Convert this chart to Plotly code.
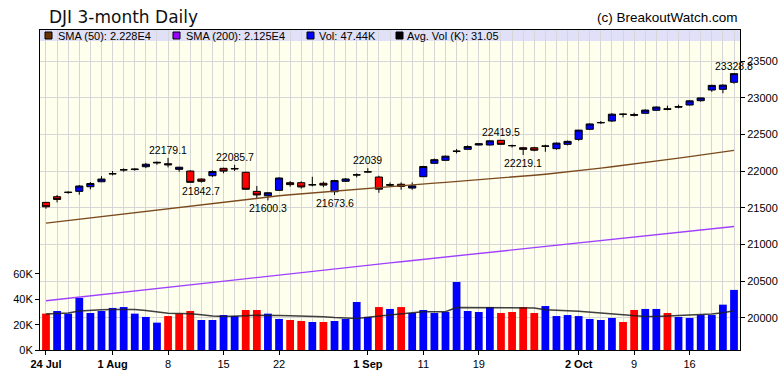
import plotly.graph_objects as go

# ---------------- data ----------------
dates = ["2017-07-24", "2017-07-25", "2017-07-26", "2017-07-27", "2017-07-28", "2017-07-31",
         "2017-08-01", "2017-08-02", "2017-08-03", "2017-08-04", "2017-08-07", "2017-08-08",
         "2017-08-09", "2017-08-10", "2017-08-11", "2017-08-14", "2017-08-15", "2017-08-16",
         "2017-08-17", "2017-08-18", "2017-08-21", "2017-08-22", "2017-08-23", "2017-08-24",
         "2017-08-25", "2017-08-28", "2017-08-29", "2017-08-30", "2017-08-31", "2017-09-01",
         "2017-09-05", "2017-09-06", "2017-09-07", "2017-09-08", "2017-09-11", "2017-09-13",
         "2017-09-14", "2017-09-15", "2017-09-18", "2017-09-19", "2017-09-20", "2017-09-21",
         "2017-09-22", "2017-09-25", "2017-09-26", "2017-09-27", "2017-09-28", "2017-09-29",
         "2017-10-02", "2017-10-03", "2017-10-04", "2017-10-05", "2017-10-06", "2017-10-09",
         "2017-10-10", "2017-10-11", "2017-10-12", "2017-10-13", "2017-10-16", "2017-10-17",
         "2017-10-18", "2017-10-19", "2017-10-20"]

opens = [21573, 21650, 21707, 21723, 21786, 21854, 21961, 22018, 22020, 22059, 22110, 22100,
         22023, 22000, 21891, 21936, 22037, 22035, 21983, 21723, 21663, 21737, 21841, 21841,
         21810, 21833, 21718, 21860, 21946, 21990, 21918, 21815, 21820, 21768, 21923, 22105,
         22146, 22268, 22296, 22355, 22355, 22419, 22345, 22318, 22318, 22338, 22305, 22364,
         22432, 22569, 22657, 22682, 22775, 22770, 22787, 22828, 22850, 22880, 22900, 22959,
         23105, 23114, 23210]
highs = [21578, 21673, 21722, 21810, 21850, 21930, 22000, 22036, 22036, 22112, 22130, 22179.1,
         22060, 22010, 21900, 22010, 22045, 22085.7, 21990, 21796, 21710, 21915, 21864, 21860,
         21922, 21856, 21880, 21905, 21968, 22039, 21936, 21845, 21845, 21845, 22070, 22170,
         22210, 22300, 22350, 22380, 22415, 22419.5, 22360, 22330, 22330, 22359, 22390, 22415,
         22560, 22650, 22682, 22790, 22787, 22795, 22840, 22880, 22891, 22905, 22965, 23002,
         23175, 23180, 23328.8]
lows = [21486, 21573, 21690, 21677, 21750, 21850, 21940, 21990, 22005, 22040, 22085, 22050,
        21990, 21844, 21842.7, 21920, 21970, 22000, 21750, 21628, 21600.3, 21730, 21786, 21760,
        21790, 21780, 21673.6, 21850, 21914, 21980, 21704, 21790, 21745, 21745, 21920, 22100,
        22140, 22240, 22290, 22350, 22350, 22360, 22320, 22219.1, 22270, 22263, 22290, 22350,
        22413, 22560, 22641, 22670, 22732, 22745, 22780, 22820, 22828, 22855, 22895, 22945,
        23080, 23060, 23190]
closes = [21513, 21613, 21711, 21796, 21830, 21891, 21964, 22016, 22026, 22093, 22118, 22085,
          22052, 21846, 21860, 21994, 21999, 22030, 21751, 21674, 21704, 21905, 21815, 21783,
          21814, 21808, 21870, 21892, 21948, 21988, 21753, 21808, 21790, 21798, 22062, 22155,
          22203, 22271, 22334, 22372, 22412, 22364, 22347, 22296, 22284, 22341, 22381, 22405,
          22558, 22642, 22662, 22775, 22774, 22761, 22831, 22873, 22841, 22872, 22957, 22997,
          23168, 23172, 23328]
prev_close = 21580

volume_k = [28.7, 30.8, 28.7, 41.1, 29.2, 30.8, 33.2, 33.9, 28.7, 26.1, 21.6, 26.8,
            28.7, 30.8, 23.7, 23.7, 27.6, 26.8, 31.6, 31.6, 28.7, 24.5, 23.7, 22.9,
            22.1, 22.1, 22.9, 24.5, 37.9, 26.1, 33.9, 32.4, 33.9, 29.2, 31.6, 29.2,
            30.0, 53.7, 30.8, 30.0, 33.9, 29.2, 30.0, 33.9, 29.2, 34.7, 26.8, 27.6,
            26.8, 24.5, 23.7, 25.3, 22.1, 31.6, 32.4, 32.4, 29.2, 26.1, 25.3, 27.6,
            27.6, 35.8, 47.44]
avg_volume_k = [28.5, 28.8, 29.3, 30.8, 31.5, 31.8, 32.0, 32.2, 32.0, 31.2, 30.0, 29.0,
                28.8, 28.6, 27.8, 26.8, 26.4, 26.5, 27.0, 27.4, 27.5, 27.3, 27.0, 26.8,
                26.6, 26.3, 25.6, 25.0, 24.8, 25.8, 26.8, 28.0, 29.0, 29.5, 30.2, 30.4,
                30.2, 33.6, 33.5, 33.4, 33.4, 33.4, 33.5, 33.5, 33.2, 31.8, 31.2, 31.0,
                30.6, 29.8, 29.3, 28.2, 27.5, 26.8, 26.4, 26.4, 26.8, 27.2, 27.4, 27.8,
                28.4, 29.4, 31.0]
sma50 = [21290, 21308, 21326, 21345, 21363, 21381, 21399, 21417, 21435, 21452, 21470, 21488,
         21506, 21524, 21542, 21560, 21578, 21596, 21614, 21632, 21650, 21663, 21676, 21689,
         21702, 21715, 21728, 21741, 21754, 21767, 21780, 21791, 21802, 21813, 21824, 21835,
         21846, 21857, 21868, 21880, 21891, 21903, 21915, 21929, 21943, 21957, 21972, 21988,
         22004, 22022, 22040, 22058, 22076, 22095, 22115, 22135, 22155, 22176, 22197, 22218,
         22240, 22262, 22282]
sma200 = [20232, 20249, 20266, 20283, 20300, 20317, 20334, 20351, 20368, 20385, 20402, 20419,
          20436, 20453, 20470, 20487, 20504, 20521, 20538, 20555, 20572, 20588, 20604, 20620,
          20636, 20652, 20668, 20684, 20700, 20716, 20732, 20748, 20764, 20780, 20796, 20812,
          20828, 20844, 20860, 20876, 20892, 20908, 20924, 20940, 20956, 20972, 20988, 21004,
          21020, 21036, 21052, 21068, 21084, 21100, 21116, 21132, 21148, 21164, 21180, 21196,
          21212, 21228, 21244]

tick_idx = [0, 6, 11, 16, 21, 29, 34, 39, 48, 53, 58]
tick_text = ["<b>24 Jul</b>", "<b>1 Aug</b>", "8", "15", "22", "<b>1 Sep</b>", "11", "19",
             "<b>2 Oct</b>", "9", "16"]
price_ticks = [20000, 20500, 21000, 21500, 22000, 22500, 23000, 23500]
vol_ticks = [0, 20, 40, 60]
vol_tick_text = ["0K", "20K", "40K", "60K"]

label_idx = [11, 14, 17, 20, 26, 29, 41, 43, 62]
label_side = ["high", "low", "high", "low", "low", "high", "high", "low", "high"]

legend_labels = ["SMA (50): 2.228E4", "SMA (200): 2.125E4", "Vol: 47.44K", "Avg. Vol (K): 31.05"]
legend_colors = ["#663300", "#9900ff", "#0000ff", "#000000"]

title_text = "DJI 3-month Daily"
credit_text = "(c) BreakoutWatch.com"

# ---------------- layout geometry ----------------
W, H = 780, 376
L, R, T, B = 40, 40, 30, 26
PW, PH = W - L - R, H - T - B


def px_x(p):
    return (p - L) / PW


def px_y(p):
    return (H - B - p) / PH


idx = list(range(len(dates)))
vol_colors = []
for i, c in enumerate(closes):
    pc = prev_close if i == 0 else closes[i - 1]
    vol_colors.append("#ff0000" if c < pc else "#0000ff")

fig = go.Figure()

fig.add_trace(go.Bar(
    x=idx, y=volume_k, marker=dict(color=vol_colors, line=dict(width=0)),
    yaxis="y2", customdata=dates, hoverinfo="skip"))
fig.add_trace(go.Scatter(
    x=idx, y=avg_volume_k, mode="lines", yaxis="y2",
    line=dict(color="rgba(30,30,30,0.85)", width=1.5), hoverinfo="skip"))

fig.add_trace(go.Scatter(
    x=idx, y=sma200, mode="lines", yaxis="y3",
    line=dict(color="#a040ff", width=1.4), hoverinfo="skip"))
fig.add_trace(go.Scatter(
    x=idx, y=sma50, mode="lines", yaxis="y3",
    line=dict(color="#7a4a1e", width=1.4), hoverinfo="skip"))
fig.add_trace(go.Candlestick(
    x=idx, open=opens, high=highs, low=lows, close=closes, yaxis="y3",
    increasing=dict(fillcolor="#0000ff", line=dict(color="#000000", width=1)),
    decreasing=dict(fillcolor="#ff0000", line=dict(color="#000000", width=1)),
    whiskerwidth=0, hoverinfo="skip"))

price_range = [19560, 23923]
vol_range = [0, 252.6]

annotations = []
for i, side in zip(label_idx, label_side):
    v = highs[i] if side == "high" else lows[i]
    annotations.append(dict(
        x=i, y=v, xref="x", yref="y3", text=format(v, ".6g"), showarrow=False,
        yanchor="bottom" if side == "high" else "top",
        font=dict(family="Liberation Sans, Arial", size=10.5, color="#000000")))

annotations.append(dict(
    x=px_x(49) - 0.003, y=px_y(17), xref="paper", yref="paper", text=title_text,
    showarrow=False, xanchor="left", yanchor="middle",
    font=dict(family="DejaVu Sans", size=17, color="#111111")))
annotations.append(dict(
    x=1.0, y=px_y(17.5), xref="paper", yref="paper", text=credit_text,
    showarrow=False, xanchor="right", yanchor="middle",
    font=dict(family="Liberation Sans, Arial", size=13.5, color="#000000")))

shapes = [dict(type="rect", xref="paper", yref="paper", x0=0, x1=1,
               y0=px_y(41), y1=1, fillcolor="#e0e0f8", line=dict(width=0), layer="below")]

sq_x = [45, 173, 307, 396]
txt_x = [56, 184, 317, 405]
for sx, tx, lab, col in zip(sq_x, txt_x, legend_labels, legend_colors):
    shapes.append(dict(type="rect", xref="paper", yref="paper",
                       x0=px_x(sx), x1=px_x(sx + 7), y0=px_y(39), y1=px_y(32),
                       fillcolor=col, line=dict(color="#000000", width=1)))
    annotations.append(dict(
        x=px_x(tx), y=px_y(35.5), xref="paper", yref="paper", text=lab,
        showarrow=False, xanchor="left", yanchor="middle",
        font=dict(family="Liberation Sans, Arial", size=11, color="#000000")))

grid_col = "#d6d6d6"
fig.update_layout(
    width=W, height=H,
    margin=dict(l=L, r=R, t=T, b=B, pad=0, autoexpand=False),
    paper_bgcolor="#ffffff", plot_bgcolor="#ffffee",
    showlegend=False, bargap=0.3, boxgap=0.08,
    font=dict(family="Liberation Sans, Arial", size=11, color="#000000"),
    xaxis=dict(
        range=[-0.54, 62.54], tickmode="array", tickvals=tick_idx, ticktext=tick_text,
        ticks="outside", ticklen=4, tickcolor="#000000", automargin=False,
        showgrid=True, gridcolor=grid_col, gridwidth=1,
        minor=dict(tickmode="linear", tick0=0, dtick=1, showgrid=True,
                   gridcolor=grid_col, gridwidth=1, ticks=""),
        showline=True, linecolor="#000000", linewidth=1, mirror=True,
        zeroline=False, rangeslider=dict(visible=False), fixedrange=True,
        tickfont=dict(size=11)),
    yaxis2=dict(
        range=vol_range, side="left", tickmode="array", tickvals=vol_ticks,
        ticktext=vol_tick_text, ticks="outside", ticklen=4, tickcolor="#000000",
        automargin=False, fixedrange=True,
        showgrid=False, zeroline=False, showline=True, linecolor="#000000",
        linewidth=1, tickfont=dict(size=11)),
    yaxis3=dict(
        range=price_range, side="right", overlaying="y2", tickmode="array",
        tickvals=price_ticks, ticktext=[str(v) for v in price_ticks],
        ticks="outside", ticklen=4, tickcolor="#000000", automargin=False,
        fixedrange=True,
        showgrid=True, gridcolor=grid_col, gridwidth=1, zeroline=False,
        showline=True, linecolor="#000000", linewidth=1, tickfont=dict(size=11)),
    annotations=annotations, shapes=shapes,
)

fig.write_html("out.html",
               config={"displayModeBar": False, "staticPlot": True},
               post_script="document.body.style.margin='0px';document.body.style.padding='0px';")
